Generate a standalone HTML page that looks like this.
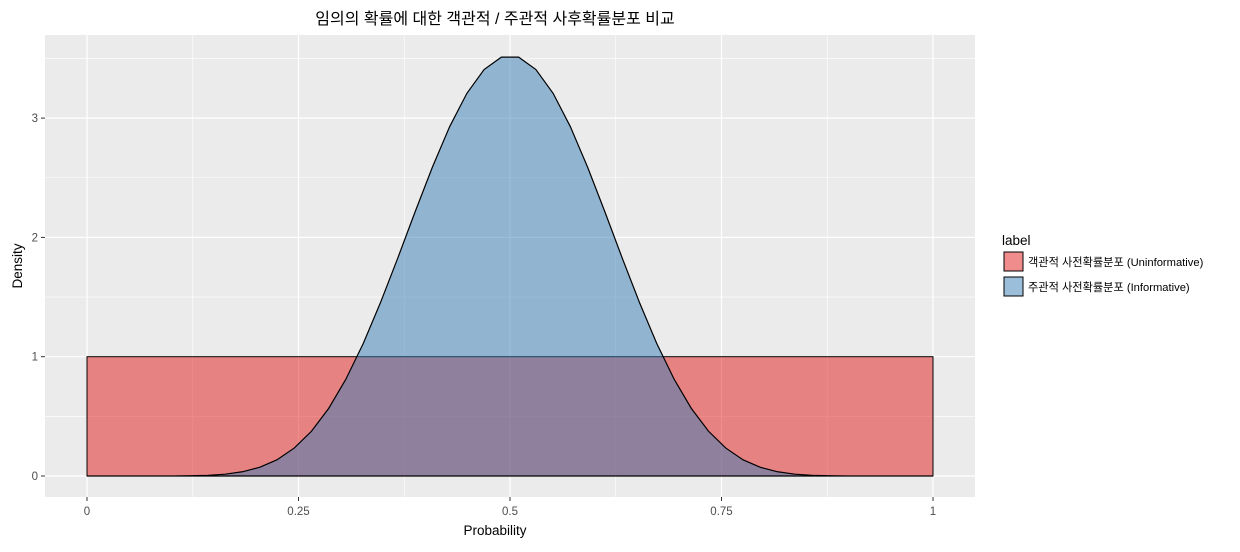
<!DOCTYPE html>
<html><head><meta charset="utf-8"><style>
body{margin:0;background:#fff;}
svg text{font-family:"Liberation Sans","Noto Sans CJK KR",sans-serif;}
</style></head><body>
<svg width="1240" height="547" viewBox="0 0 1240 547">
<text x="495" y="24" text-anchor="middle" font-size="16" fill="#000">임의의 확률에 대한 객관적 / 주관적 사후확률분포 비교</text>
<rect x="45" y="35" width="930" height="462" fill="#EBEBEB"/>
<g id="grid"></g>
<g id="marks"></g>
<g id="axes"></g>
<text x="495" y="535" text-anchor="middle" font-size="13.5" fill="#000">Probability</text>
<text transform="translate(22,266) rotate(-90)" text-anchor="middle" font-size="13.5" fill="#000">Density</text>
<g>
<text x="1002" y="245" font-size="13.5" fill="#000">label</text>
<rect x="1004" y="252" width="19" height="19" fill="#E41A1C" fill-opacity="0.5" stroke="#000"/>
<text x="1028" y="266" font-size="11.2" fill="#000">객관적 사전확률분포 (Uninformative)</text>
<rect x="1004" y="277" width="19" height="19" fill="#377EB8" fill-opacity="0.5" stroke="#000"/>
<text x="1028" y="291" font-size="11.2" fill="#000">주관적 사전확률분포 (Informative)</text>
</g>
</svg>
<script>
const xTicks=[0,0.25,0.5,0.75,1];
const xTickLabels=["0","0.25","0.5","0.75","1"];
const yTicks=[0,1,2,3];
const yTickLabels=["0","1","2","3"];
const uniformDensity=1;
const betaHalf=[0,0,0,0,0.0001,0.0004,0.0018,0.0057,0.0153,0.0354,0.0727,0.1357,0.234,0.375,0.567,0.813,1.111,1.454,1.827,2.213,2.587,2.927,3.207,3.407,3.511];
const betaDensity=betaHalf.concat(betaHalf.slice().reverse());
const betaX=betaDensity.map((d,i)=>i/(betaDensity.length-1));
const NS='http://www.w3.org/2000/svg';
const X=v=>87+v*846, Y=v=>476-v*119.3;
function mk(t,a,p){const e=document.createElementNS(NS,t);for(const k in a)e.setAttribute(k,a[k]);p.appendChild(e);return e;}
const grid=document.getElementById('grid'),marks=document.getElementById('marks'),axes=document.getElementById('axes');
for(let i=0;i<xTicks.length;i++){
 if(i<xTicks.length-1){const m=(xTicks[i]+xTicks[i+1])/2;const g=mk('line',{x1:X(m),x2:X(m),y1:35,y2:497,stroke:'#fff','stroke-width':0.6},grid);
 
 }
 const l=mk('line',{x1:X(xTicks[i]),x2:X(xTicks[i]),y1:35,y2:497,stroke:'#fff','stroke-width':1.2},grid);
 
 
 mk('line',{x1:X(xTicks[i]),x2:X(xTicks[i]),y1:497,y2:501,stroke:'#333'},axes);
 const t=mk('text',{x:X(xTicks[i]),y:515,'text-anchor':'middle','font-size':11.5,fill:'#4d4d4d'},axes);t.textContent=xTickLabels[i];
 
 
}
for(let i=0;i<yTicks.length;i++){
 const m=yTicks[i]+0.5;const g=mk('line',{x1:45,x2:975,y1:Y(m),y2:Y(m),stroke:'#fff','stroke-width':0.6},grid);
 
 
 const l=mk('line',{x1:45,x2:975,y1:Y(yTicks[i]),y2:Y(yTicks[i]),stroke:'#fff','stroke-width':1.2},grid);
 
 
 mk('line',{x1:41,x2:45,y1:Y(yTicks[i]),y2:Y(yTicks[i]),stroke:'#333'},axes);
 const t=mk('text',{x:38,y:Y(yTicks[i])+4,'text-anchor':'end','font-size':11.5,fill:'#4d4d4d'},axes);t.textContent=yTickLabels[i];
 
 
}
const r=mk('rect',{x:X(0),y:Y(uniformDensity),width:X(1)-X(0),height:Y(0)-Y(uniformDensity),fill:'#E41A1C','fill-opacity':0.5,stroke:'#000','stroke-width':1},marks);


let pts=betaX.map((x,i)=>X(x)+','+Y(betaDensity[i])).join(' ');
const p=mk('polygon',{points:pts,fill:'#377EB8','fill-opacity':0.5,stroke:'#000','stroke-width':1.2},marks);


</script>
</body></html>
